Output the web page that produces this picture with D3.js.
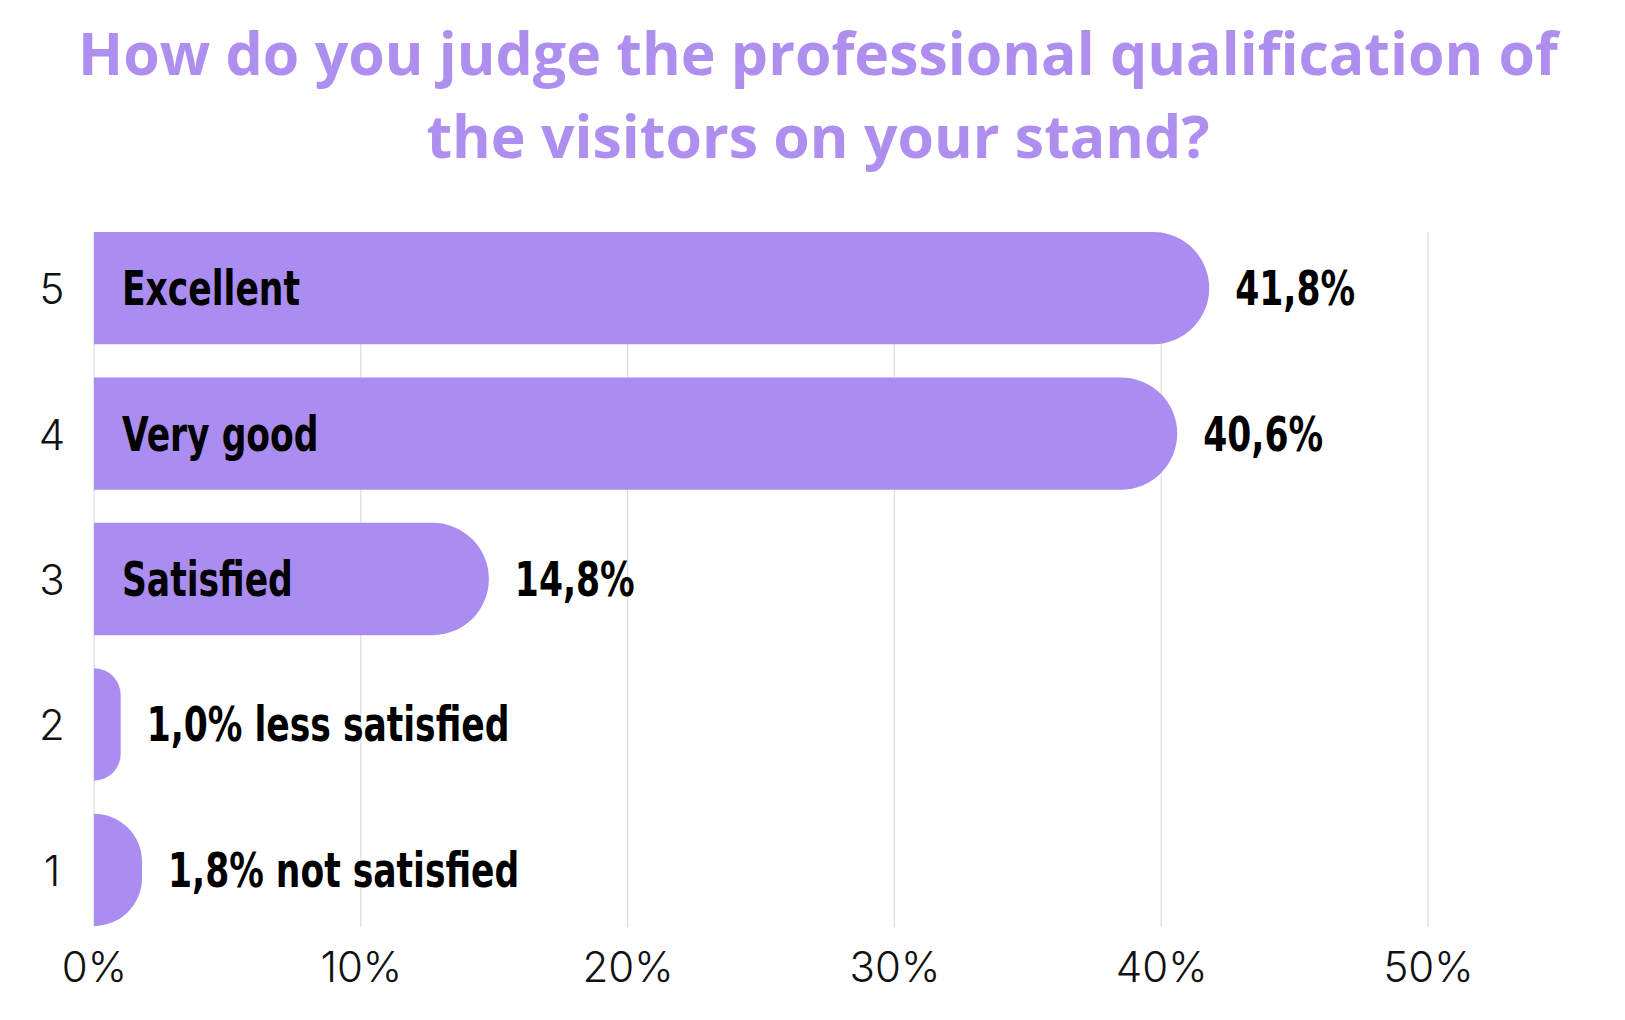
<!DOCTYPE html>
<html>
<head>
<meta charset="utf-8">
<script src="https://cdn.jsdelivr.net/npm/d3@7"></script>
<style>
  html, body { margin: 0; padding: 0; background: #fff; }
  svg { display: block; }
</style>
</head>
<body>
<div id="chart"></div>
<script>
/*------------------- Data --------------------*/
const ratings = ["5", "4", "3", "2", "1"];
const shares = [41.8, 40.6, 14.8, 1.0, 1.8];
const answerNames = ["Excellent", "Very good", "Satisfied", "less satisfied", "not satisfied"];
const tickValues = [0, 10, 20, 30, 40, 50];
const titleLines = [
    "How do you judge the professional qualification of",
    "the visitors on your stand?"
];

/*------------------- Setup --------------------*/
const width = 1625, height = 1020;
const purple = "#ab8cf1";
const boldFont = "'DejaVu Sans Condensed', 'Liberation Sans Narrow', sans-serif";
const squeeze = 0.8; // the original labels use a narrow geometric bold

const svg = d3.select("#chart").append("svg")
    .attr("width", width)
    .attr("height", height);

const rows = ratings.map((r, i) => ({ rating: r, value: shares[i], name: answerNames[i] }));

const x = d3.scaleLinear().domain([0, 50]).range([94, 1428]);
const y = d3.scaleBand().domain(ratings).range([232, 926]).paddingInner(0.228).paddingOuter(0);

const fmt = v => d3.format(".1f")(v).replace(".", ",") + "%";

/*------------------- Title --------------------*/
const title = svg.append("g");
titleLines.forEach((line, i) => {
    title.append("text")
        .attr("x", 818)
        .attr("y", 75 + i * 83)
        .attr("text-anchor", "middle")
        .attr("fill", "#ae8ff0")
        .style("font-family", "'Open Sans', sans-serif")
        .style("font-weight", 700)
        .style("font-size", "60px")
        .text(line);
});
// scale the title so the first line spans roughly the same width as the original
const firstLine = title.select("text").node();
const k = 1480 / firstLine.getComputedTextLength();
title.selectAll("text").style("font-size", (60 * k) + "px");

/*------------------- Grid & axis --------------------*/
svg.append("g")
    .selectAll("line")
    .data(tickValues)
    .join("line")
    .attr("x1", d => x(d)).attr("x2", d => x(d))
    .attr("y1", y.range()[0]).attr("y2", y.range()[1] + 1)
    .attr("stroke", "#dcdcdc")
    .attr("stroke-width", 1.2);

const xAxis = d3.axisBottom(x).tickValues(tickValues).tickFormat(d => d + "%").tickSize(0).tickPadding(0);
svg.append("g")
    .attr("transform", `translate(0, 982)`)
    .call(xAxis)
    .call(g => g.select(".domain").remove())
    .call(g => g.selectAll("text")
        .attr("dy", 0).attr("y", 0)
        .attr("fill", "#111")
        .style("font-family", "Inter, 'Liberation Sans', sans-serif")
        .style("font-weight", 300)
        .style("font-size", "42px"));

const yAxis = d3.axisLeft(y).tickSize(0).tickPadding(0);
svg.append("g")
    .attr("transform", `translate(52, 0)`)
    .call(yAxis)
    .call(g => g.select(".domain").remove())
    .call(g => g.selectAll("text")
        .attr("text-anchor", "middle")
        .attr("x", 0).attr("dy", 0)
        .attr("y", 16)
        .attr("fill", "#111")
        .style("font-family", "Inter, 'Liberation Sans', sans-serif")
        .style("font-weight", 300)
        .style("font-size", "42px"));

/*------------------- Bars --------------------*/
// flat at the start, rounded at the end
function barPath(d) {
    const x0 = x(0), x1 = x(d.value);
    const y0 = y(d.rating), h = y.bandwidth(), y1 = y0 + h;
    const r = Math.min(x1 - x0, h / 2);
    return `M${x0},${y0}H${x1 - r}A${r},${r} 0 0 1 ${x1},${y0 + r}` +
           `V${y1 - r}A${r},${r} 0 0 1 ${x1 - r},${y1}H${x0}Z`;
}

svg.append("g")
    .selectAll("path")
    .data(rows)
    .join("path")
    .attr("d", barPath)
    .attr("fill", purple);

/*------------------- Labels --------------------*/
const labels = svg.append("g")
    .style("font-family", boldFont)
    .style("font-weight", 700)
    .style("font-size", "48px")
    .attr("fill", "#000");

const wide = d => x(d.value) - x(0) > 250;
const labelY = d => y(d.rating) + y.bandwidth() / 2 + 17;

// answer names inside the long bars
labels.selectAll("text.name")
    .data(rows.filter(wide))
    .join("text")
    .attr("class", "name")
    .attr("transform", d => `translate(${x(0) + 28},${labelY(d)}) scale(${squeeze},1)`)
    .text(d => d.name);

// values after the bar end (with the answer name for the short bars)
labels.selectAll("text.value")
    .data(rows)
    .join("text")
    .attr("class", "value")
    .attr("transform", d => `translate(${x(d.value) + 26},${labelY(d)}) scale(${squeeze},1)`)
    .text(d => wide(d) ? fmt(d.value) : fmt(d.value) + " " + d.name);
</script>
</body>
</html>
